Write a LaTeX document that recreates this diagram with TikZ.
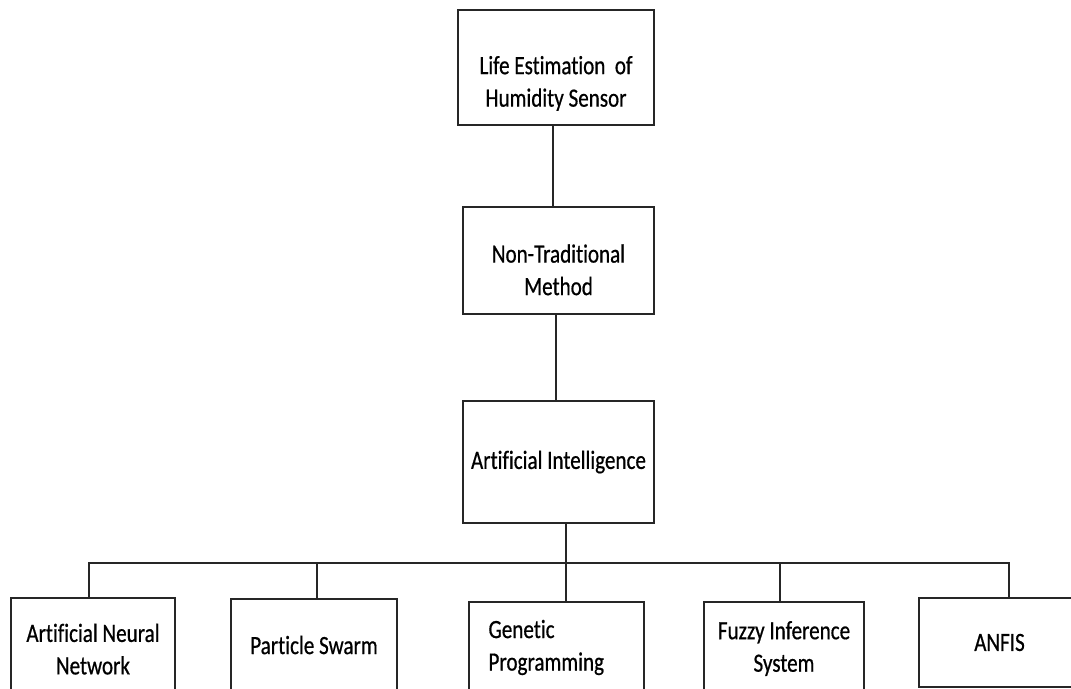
\documentclass[tikz,border=0pt]{standalone}
\usepackage{fontspec}
\setmainfont{Carlito}[FakeStretch=0.8,FakeBold=0.6,Ligatures=NoCommon]

\tikzset{
    block/.style={rectangle,draw=black!85,line width=1pt,align=center,
        font=\fontsize{15}{18.5}\selectfont},
    link/.style={draw=black!85,line width=1pt}
}

\begin{document}
\begin{tikzpicture}[x=0.02cm,y=-0.02cm]
        \clip (0,0) rectangle (1071,689);
        \fill[white] (0,0) rectangle (1071,689);

        \node[block,minimum width=3.92cm,minimum height=2.3cm,text height=47pt] (life) at (556,67.5) {Life Estimation\ \ of\\Humidity Sensor};
        \node[block,minimum width=3.82cm,minimum height=2.14cm,text height=39.5pt] (nontrad) at (558.5,260.5) {Non-Traditional\\Method};
        \node[block,minimum width=3.82cm,minimum height=2.44cm] (ai) at (558.5,462) {Artificial Intelligence};

        \node[block,minimum width=3.28cm,minimum height=1.9cm,text height=33pt] (ann) at (93,645.5) {Artificial Neural\\Network};
        \node[block,minimum width=3.32cm,minimum height=1.84cm] (pso) at (314,645) {Particle Swarm};
        \node[block,minimum width=3.5cm,minimum height=1.82cm,text width=2.72cm,align=left] (gp) at (556.5,647.5) {Genetic\\Programming};
        \node[block,minimum width=3.2cm,minimum height=1.82cm,text height=30pt] (fis) at (784,647.5) {Fuzzy Inference\\System};
        \node[block,minimum width=3.22cm,minimum height=1.78cm] (anfis) at (999.5,642.5) {ANFIS};

        \coordinate (bus) at (566,563);

        \draw[link] ([xshift=-0.06cm]life.south) -- ([xshift=-0.06cm]life.south |- nontrad.north);
        \draw[link] ([xshift=-0.05cm]nontrad.south) -- ([xshift=-0.05cm]nontrad.south |- ai.north);
        \draw[link] ([xshift=0.15cm]ai.south) -- (bus);
        \draw[link] ([xshift=-0.08cm]ann.north) |- (bus) -| ([xshift=0.19cm]anfis.north);
        \foreach \n/\s in {pso/0.06, gp/0.19, fis/-0.08}
            \draw[link] ([xshift=\s cm]\n.north) -- ([xshift=\s cm]\n.north |- bus);

    \end{tikzpicture}
\end{document}
